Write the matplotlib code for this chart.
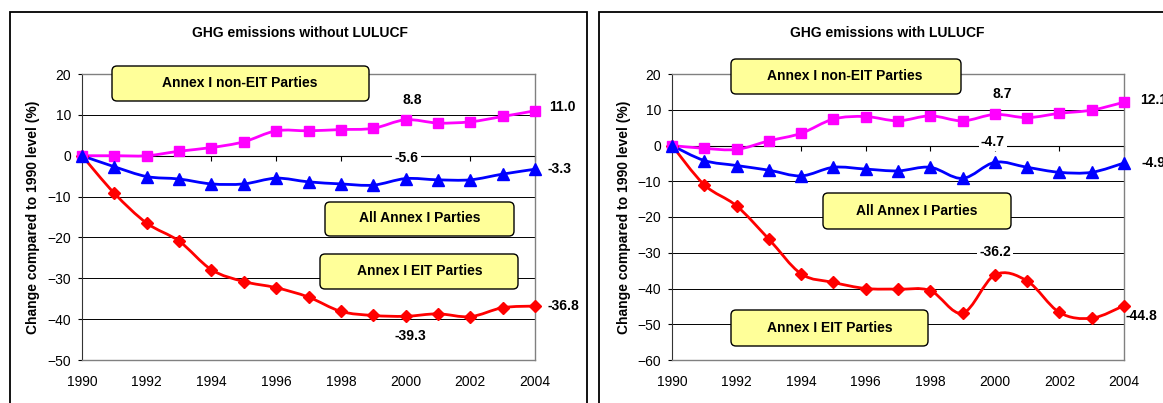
import matplotlib
matplotlib.use('Agg')
import matplotlib.pyplot as plt
from matplotlib.path import Path
from matplotlib.patches import PathPatch, FancyBboxPatch, Rectangle
from matplotlib.transforms import IdentityTransform

plt.rcParams['font.family'] = ['Liberation Sans', 'DejaVu Sans']

years = list(range(1990, 2005))

# without LULUCF
noneit_wo = [0, 0, 0, 1.1, 2.0, 3.4, 6.1, 6.1, 6.4, 6.7, 8.8, 8.0, 8.3, 9.6, 11.0]
all_wo = [0, -2.7, -5.1, -5.7, -6.9, -6.9, -5.5, -6.4, -6.9, -7.2, -5.6, -5.9, -5.9, -4.5, -3.3]
eit_wo = [0, -9.2, -16.5, -20.9, -27.9, -30.8, -32.3, -34.6, -38.1, -39.1, -39.3, -38.7, -39.4, -37.2, -36.8]

# with LULUCF
noneit_w = [0, -0.8, -1.1, 1.3, 3.4, 7.4, 8.1, 6.9, 8.3, 6.9, 8.7, 7.8, 9.0, 9.9, 12.1]
all_w = [0, -4.2, -5.6, -6.9, -8.5, -6.1, -6.6, -7.1, -6.1, -9.2, -4.7, -6.1, -7.5, -7.5, -4.9]
eit_w = [0, -11.0, -16.9, -26.2, -35.9, -38.3, -40.0, -40.2, -40.6, -46.9, -36.2, -37.9, -46.7, -48.3, -44.8]

titles = ['GHG emissions without LULUCF', 'GHG emissions with LULUCF']
ylabel = 'Change compared to 1990 level (%)'
box_names = ['Annex I non-EIT Parties', 'All Annex I Parties', 'Annex I EIT Parties']

W, H = 1163, 403
fig = plt.figure(figsize=(W / 100, H / 100), dpi=100)
fig.patch.set_facecolor('white')
PT = 0.72  # px -> pt


def smooth(x, y):
    # smoothed line through the points (like excel's smoothed line)
    n = len(x)
    verts = [(x[0], y[0])]
    codes = [Path.MOVETO]
    for i in range(n - 1):
        a = i - 1 if i > 0 else i
        d = i + 2 if i + 2 < n else i + 1
        c1 = (x[i] + (x[i + 1] - x[a]) / 6, y[i] + (y[i + 1] - y[a]) / 6)
        c2 = (x[i + 1] - (x[d] - x[i]) / 6, y[i + 1] - (y[d] - y[i]) / 6)
        verts += [c1, c2, (x[i + 1], y[i + 1])]
        codes += [Path.CURVE4] * 3
    return Path(verts, codes)


def panel(rect, ymin, series, labels, boxes, ylab_x):
    ax = fig.add_axes(rect)
    ax.set_xlim(1990, 2004)
    ax.set_ylim(ymin, 20)
    ax.set_yticks(range(ymin, 21, 10))
    ax.set_xticks(range(1990, 2005, 2))
    ax.tick_params(axis='x', length=0, pad=11, labelsize=10)
    ax.tick_params(axis='y', length=3, pad=5, labelsize=10, width=0.8)
    for v in range(ymin + 10, 20, 10):
        ax.axhline(v, color='black', lw=0.7, zorder=1)
    for s in ['top', 'right', 'bottom']:
        ax.spines[s].set_color('#808080')
        ax.spines[s].set_linewidth(1)
    ax.spines['left'].set_color('#333333')

    # category axis crosses at 0
    pos0 = (0 - ymin) / (20 - ymin)
    sec = ax.secondary_xaxis(pos0)
    sec.set_alignment('bottom')
    sec.set_xticks(range(1990, 2005, 2))
    sec.tick_params(axis='x', length=3.5, labelbottom=False, labeltop=False, color='black')
    sec.spines['bottom'].set_color('black')

    for vals, color, marker, ms in series:
        ax.add_patch(PathPatch(smooth(years, vals), fill=False, edgecolor=color,
                               lw=2, zorder=3, clip_on=False))
        ax.plot(years, vals, linestyle='none', marker=marker, color=color,
                markersize=ms, zorder=4, clip_on=False)

    for vals, idx, ha, dx, dy, bg in labels:
        kw = dict(fontsize=10, fontweight='bold', ha=ha, va='center',
                  xytext=(dx * PT, dy * PT), textcoords='offset points', zorder=5,
                  annotation_clip=False)
        if bg:
            kw['bbox'] = dict(facecolor='white', edgecolor='none', pad=1.5)
        ax.annotate(f'{vals[idx]:.1f}', (years[idx], vals[idx]), **kw)

    ax.set_ylabel(ylabel, fontsize=10, fontweight='bold')
    ax.yaxis.set_label_coords(ylab_x, 0.5)

    for name, (x0, x1, y0, y1), (tx, ty) in boxes:
        fig.add_artist(FancyBboxPatch((x0, H - y1), x1 - x0, y1 - y0,
                                      boxstyle='round,pad=0,rounding_size=5',
                                      facecolor='#FFFF99', edgecolor='black', lw=1,
                                      transform=IdentityTransform(), zorder=6))
        fig.text(tx / W, 1 - ty / H, name, ha='center', va='center',
                 fontsize=10, fontweight='bold', zorder=7)
    return ax


# outer frames
for x0, x1 in [(10, 587), (599, 1180)]:
    fig.add_artist(Rectangle((x0, -20), x1 - x0, H - 12 + 20, fill=False,
                             edgecolor='black', lw=1.3, transform=IdentityTransform()))

ax1 = panel([82 / W, 1 - 360 / H, (535 - 82) / W, 286 / H], -50,
            [(eit_wo, '#FF0000', 'D', 6.5), (noneit_wo, '#FF00FF', 's', 7),
             (all_wo, '#0000FF', '^', 8)],
            [(noneit_wo, 10, 'center', 7, 20, False), (noneit_wo, 14, 'left', 14, 4, False),
             (all_wo, 10, 'center', 1, 21, True), (all_wo, 14, 'left', 12, 0, False),
             (eit_wo, 14, 'left', 12, 0, False), (eit_wo, 10, 'center', 5, -20, False)],
            [(box_names[0], (112, 369, 66, 101), (240, 83)),
             (box_names[1], (325, 514, 202, 236), (420, 218)),
             (box_names[2], (320, 518, 254, 289), (420, 271))],
            (40 - 82) / 453)
fig.text(300 / W, 1 - 33 / H, titles[0], ha='center', va='center', fontsize=10, fontweight='bold')

ax2 = panel([672 / W, 1 - 360 / H, (1124 - 672) / W, 286 / H], -60,
            [(eit_w, '#FF0000', 'D', 6.5), (noneit_w, '#FF00FF', 's', 7),
             (all_w, '#0000FF', '^', 8)],
            [(noneit_w, 10, 'center', 7, 20, False), (noneit_w, 14, 'left', 16, 2, False),
             (all_w, 10, 'center', -2, 20, True), (all_w, 14, 'left', 17, 0, False),
             (eit_w, 10, 'center', 0, 23, True), (eit_w, 14, 'left', 2, -10, False)],
            [(box_names[0], (731, 961, 59, 94), (845, 76)),
             (box_names[1], (823, 1011, 193, 229), (917, 211)),
             (box_names[2], (731, 928, 310, 346), (830, 328))],
            (631 - 672) / 452)
fig.text(887 / W, 1 - 33 / H, titles[1], ha='center', va='center', fontsize=10, fontweight='bold')

fig.savefig('out.png', dpi=100)
